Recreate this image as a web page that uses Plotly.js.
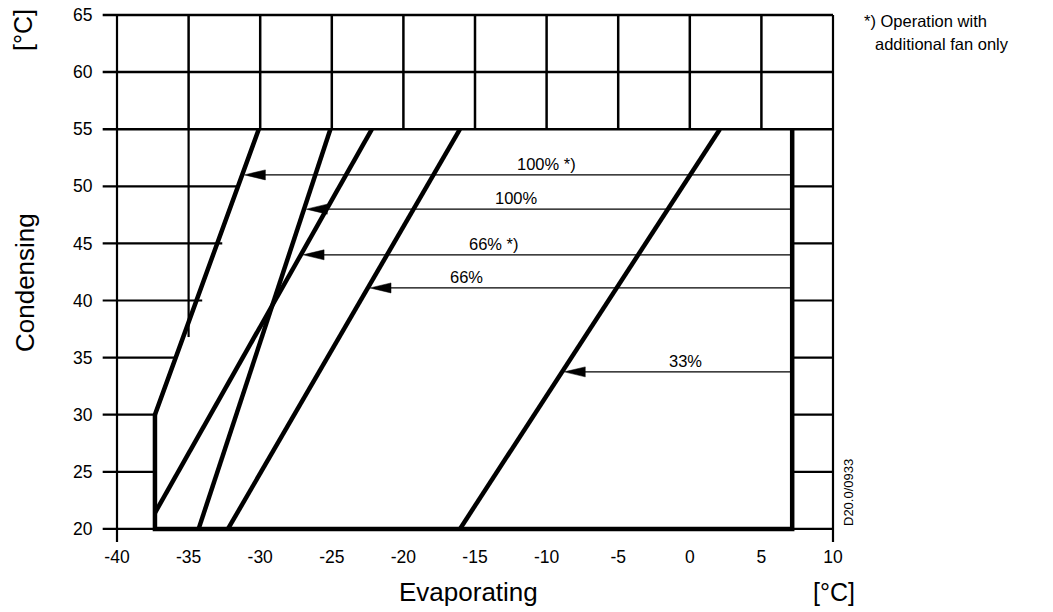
<!DOCTYPE html>
<html><head><meta charset="utf-8">
<script src="https://cdn.plot.ly/plotly-3.0.1.min.js"></script>
<style>html,body{margin:0;padding:0;background:#fff}#chart{width:1053px;height:612px}</style>
</head><body><div id="chart"></div>
<script>
// ---------------- data ----------------
const xTickVals = [-40, -35, -30, -25, -20, -15, -10, -5, 0, 5, 10];
const xTickText = ['-40', '-35', '-30', '-25', '-20', '-15', '-10', '-5', '0', '5', '10'];
const yTickVals = [20, 25, 30, 35, 40, 45, 50, 55, 60, 65];
const yTickText = ['20', '25', '30', '35', '40', '45', '50', '55', '60', '65'];

// upper grid band (55..65 °C condensing)
const gridRows = [55, 60, 65];
const gridCols = [-35, -30, -25, -20, -15, -10, -5, 0, 5];
const gridLeftX = -41.0;
const axisBottomY = 18.86;

// short horizontal stubs on the left and right
const leftStubY = [50, 45, 40, 35, 30, 25, 20];
const leftStubEndX = [-31.6, -32.65, -34.05, -35.9, -37.2, -37.35, -37.35];
const rightStubY = [50, 45, 40, 35, 30, 25, 20];
const col35ExtBottomY = 36.8;

// envelope boundary (100% *) line, left edge, bottom, right edge)
const envelopeX = [-30.1, -37.35, -37.35, 7.15, 7.15];
const envelopeY = [55, 30, 20, 20, 55];
const rightEdgeX = 7.15;

// operating lines: top point at 55 °C, bottom point
const lineLabels = ['100% *)', '100%', '66% *)', '66%', '33%'];
const lineTopX = [-30.1, -25.1, -22.2, -16.05, 2.1];
const lineTopY = [55, 55, 55, 55, 55];
const lineBottomX = [-37.35, -34.3, -37.35, -32.25, -16.05];
const lineBottomY = [30, 20, 21.4, 20, 20];
const arrowY = [51.0, 48.0, 44.0, 41.1, 33.75];
const labelX = [-10.0, -12.1, -13.7, -15.6, -0.3];

// ---------------- layout geometry ----------------
const M = {l: 101, r: 211, t: 12, b: 68};
const W = 1053, H = 612;
const pw = W - M.l - M.r, ph = H - M.t - M.b;
const pxPerX = 14.32, pxPerY = 11.42;
const xr0 = -40 - (117 - M.l) / pxPerX, xr1 = xr0 + pw / pxPerX;
const yr1 = 65 + (15 - M.t) / pxPerY, yr0 = yr1 - ph / pxPerY;
function P(xpx, ypx) { return {x: (xpx - M.l) / pw, y: (H - M.b - ypx) / ph}; }

const FONT = 'Liberation Sans, Arial, Helvetica, sans-serif';
const traces = [];
function seg(xs, ys, w) {
  traces.push({x: xs, y: ys, type: 'scatter', mode: 'lines', hoverinfo: 'skip',
    line: {color: '#000', width: w}, showlegend: false});
}

// axis lines (left / right)
seg([-40, -40], [65, axisBottomY], 2.2);
seg([10, 10], [65, axisBottomY], 2.2);
// grid rows in upper band
gridRows.forEach(y => seg([gridLeftX, 10], [y, y], 2.5));
// grid columns in upper band
gridCols.forEach(x => seg([x, x], [55, 65], 2.5));
// -35 column extension
seg([-35, -35], [55, col35ExtBottomY], 2.2);
// left stubs
leftStubY.forEach((y, i) => seg([gridLeftX, leftStubEndX[i]], [y, y], 2.2));
// right stubs
rightStubY.forEach(y => seg([rightEdgeX, 10], [y, y], 2.2));
// envelope
seg(envelopeX, envelopeY, 4.5);
// operating lines (index 0 is part of envelope)
for (let i = 1; i < lineLabels.length; i++) {
  seg([lineBottomX[i], lineTopX[i]], [lineBottomY[i], lineTopY[i]], 4.5);
}

// arrows
const headL = 21 / pxPerX, headW = 5 / pxPerY, edge = 2.2 / pxPerX;
const annotations = [];
arrowY.forEach((y, i) => {
  const t = (y - lineBottomY[i]) / (lineTopY[i] - lineBottomY[i]);
  const tip = lineBottomX[i] + t * (lineTopX[i] - lineBottomX[i]) + edge;
  seg([rightEdgeX, tip + headL * 0.8], [y, y], 1.3);
  traces.push({x: [tip, tip + headL, tip + headL, tip], y: [y, y + headW, y - headW, y],
    type: 'scatter', mode: 'lines', fill: 'toself', fillcolor: '#000',
    line: {color: '#000', width: 0.5}, hoverinfo: 'skip', showlegend: false});
  annotations.push({x: labelX[i], y: y, xref: 'x', yref: 'y', text: lineLabels[i],
    showarrow: false, yanchor: 'bottom', yshift: 0,
    font: {family: FONT, size: 16.5, color: '#000'}});
});

function txt(xpx, ypx, text, opts) {
  const p = P(xpx, ypx);
  annotations.push(Object.assign({x: p.x, y: p.y, xref: 'paper', yref: 'paper', text: text,
    showarrow: false, xanchor: 'center', yanchor: 'middle',
    font: {family: FONT, size: 26, color: '#000'}}, opts || {}));
}
txt(25, 283, 'Condensing', {textangle: -90});
txt(23, 30, '[°C]', {textangle: -90, font: {family: FONT, size: 25, color: '#000'}});
txt(468, 592, 'Evaporating');
txt(834, 592, '[°C]', {font: {family: FONT, size: 25, color: '#000'}});
txt(862, 21, '*) Operation with', {xanchor: 'left', font: {family: FONT, size: 16.5, color: '#000'}});
txt(873, 44, 'additional fan only', {xanchor: 'left', font: {family: FONT, size: 16.5, color: '#000'}});
txt(848, 493, 'D20.0/0933', {textangle: -90, font: {family: FONT, size: 13, color: '#000'}});

const axisCommon = {showgrid: false, zeroline: false, showline: false,
  tickfont: {family: FONT, size: 17.5, color: '#000'}, fixedrange: true};
const layout = {
  width: W, height: H, margin: M, paper_bgcolor: '#fff', plot_bgcolor: '#fff',
  showlegend: false,
  xaxis: Object.assign({range: [xr0, xr1], tickmode: 'array', tickvals: xTickVals, ticktext: xTickText, ticks: ''}, axisCommon),
  yaxis: Object.assign({range: [yr0, yr1], tickmode: 'array', tickvals: yTickVals, ticktext: yTickText,
    ticks: 'outside', ticklen: 4, tickcolor: 'rgba(0,0,0,0)'}, axisCommon),
  annotations: annotations
};
Plotly.newPlot('chart', traces, layout, {staticPlot: true, displayModeBar: false});
</script></body></html>
